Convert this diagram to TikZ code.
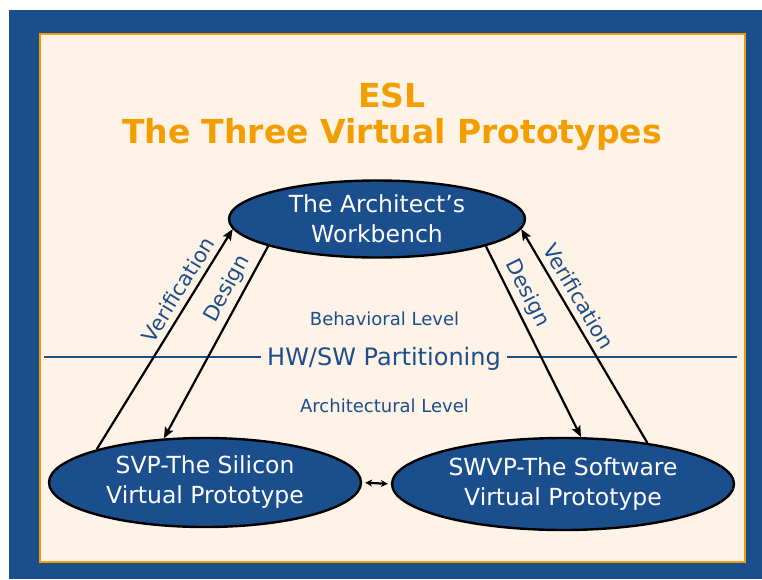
\documentclass[tikz,border=0pt]{standalone}
\usepackage{fontspec}
\setmainfont{DejaVu Sans}
\usepackage{xcolor}
\usepackage{tikz}
\usetikzlibrary{arrows.meta,positioning,shapes.geometric}

\definecolor{eslblue}{HTML}{1B4E8C}
\definecolor{eslorange}{HTML}{F29E00}
\definecolor{eslcream}{HTML}{FEF3E6}

\begin{document}
\begin{tikzpicture}[
    x=1pt, y=-1pt,
    proto/.style={draw=black, line width=2.4pt, ellipse, fill=eslblue,
                  text=white, align=center, inner sep=0pt,
                  font=\fontsize{23.5}{30}\selectfont},
    lvl/.style={text=eslblue, font=\fontsize{18}{21}\selectfont},
    flow/.style={draw, line width=2.2pt, -{Stealth[length=11pt,width=9pt,inset=2pt]}},
    tag/.style={text=eslblue, font=\fontsize{21}{24}\selectfont, sloped}
  ]
  \useasboundingbox (0,0) rectangle (762,579);
  \fill[eslblue] (9,10) rectangle (762,579);
  \draw[eslorange, fill=eslcream, line width=1.2pt] (40,34) rectangle (745,562);

  % title
  \node[text=eslorange, font=\fontsize{33}{36}\selectfont\bfseries, align=center]
    (TITLE) at (392,117) {ESL\\The Three Virtual Prototypes};

  % the three prototypes
  \node[proto, minimum width=296pt, minimum height=77pt] (ARCH) at (377,219)
    {The Architect’s\\Workbench};
  \node[proto, minimum width=312pt, minimum height=89pt] (SVP) at (205,482.5)
    {SVP-The Silicon\\Virtual Prototype};
  \node[proto, minimum width=342pt, minimum height=92pt] (SWVP) at (563,484)
    {SWVP-The Software\\Virtual Prototype};

  % partitioning line
  \node[text=eslblue, font=\fontsize{24}{28}\selectfont, fill=eslcream,
        inner xsep=6pt] (PART) at (384,359) {HW/SW Partitioning};
  \coordinate (LEFTEND) at (44,357);
  \coordinate (RIGHTEND) at (737,357);
  \draw[eslblue, line width=2.2pt] (LEFTEND) -- (PART.west |- LEFTEND);
  \draw[eslblue, line width=2.2pt] (PART.east |- RIGHTEND) -- (RIGHTEND);
  \node[lvl] (BEHAV) at (384.5,319) {Behavioral Level};
  \node[lvl] (ARCHLV) at (384.5,406) {Architectural Level};

  % design and verification
  \draw (SVP.163) edge[flow] node[tag, pos=0.69, above=2pt] {Verification} (ARCH.184.4);
  \draw (ARCH.194.7) edge[flow] node[tag, pos=0.26, above=1pt] {Design} (SVP.133);
  \draw (ARCH.346.7) edge[flow] node[tag, pos=0.285, above=1pt] {Design} (SWVP.69.6);
  \draw (SWVP.26.9) edge[flow] node[tag, pos=0.65, above=3pt] {Verification} (ARCH.356.8);
  \draw[line width=2.2pt, shorten <=3pt, shorten >=3pt,
        {Stealth[length=7pt,width=7pt]}-{Stealth[length=7pt,width=7pt]}]
    (SVP.east) -- (SWVP.west);
\end{tikzpicture}
\end{document}
